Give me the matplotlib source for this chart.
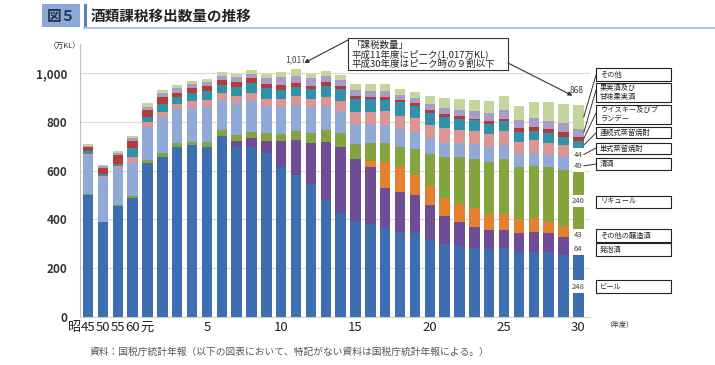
import matplotlib
matplotlib.use('Agg')
import matplotlib.pyplot as plt
from matplotlib.patches import Rectangle
import numpy as np

plt.rcParams['font.family'] = ['Noto Sans CJK JP', 'DejaVu Sans']

# ---------------- data (万KL) ----------------
years = ['昭45', '昭50', '昭55', '昭60', '平元'] + [f'平{i}' for i in range(2, 31)]
tick_labels = ['45', '50', '55', '60', '元', '', '', '', '5', '', '', '', '', '10',
               '', '', '', '', '15', '', '', '', '', '20', '', '', '', '', '25',
               '', '', '', '', '30']

series_names = ['ビール', '発泡酒', 'その他の醸造酒', 'リキュール', '清酒',
                '単式蒸留焼酎', '連続式蒸留焼酎', 'ウイスキー及びブランデー',
                '果実酒及び甘味果実酒', 'その他']
box_labels = ['ビール', '発泡酒', 'その他の醸造酒', 'リキュール', '清酒',
              '単式蒸留焼酎', '連続式蒸留焼酎', 'ウイスキー及びブ\nランデー',
              '果実酒及び\n甘味果実酒', 'その他']

beer = [500, 388, 455, 486, 630, 655, 696, 707, 699, 742, 696, 696, 671, 614, 582,
        545, 479, 425, 392, 381, 363, 347, 342, 317, 299, 292, 284, 277, 281, 267,
        267, 267, 253, 248]
happoshu = [0, 0, 0, 0, 0, 0, 0, 0, 0, 0, 26, 37, 51, 108, 144, 170, 240, 271, 254,
            233, 167, 164, 158, 141, 115, 95, 84, 79, 75, 75, 79, 75, 75, 64]
other_brewed = [0, 0, 0, 0, 0, 0, 0, 0, 0, 0, 0, 0, 0, 0, 0, 0, 0, 0, 0, 27, 107,
                108, 82, 80, 75, 77, 78, 66, 66, 58, 58, 48, 45, 43]
liqueur = [3, 2, 3, 10, 14, 16, 16, 12, 19, 25, 25, 27, 32, 29, 38, 41, 48, 58, 64,
           71, 75, 77, 105, 131, 168, 192, 203, 215, 225, 216, 215, 226, 229, 240]
seishu = [161, 184, 152, 137, 137, 148, 140, 140, 145, 123, 130, 124, 110, 112, 106,
          104, 99, 89, 81, 78, 76, 74, 73, 65, 58, 57, 60, 59, 59, 52, 55, 48, 55, 49]
shochu_tan = [4, 4, 7, 24, 20, 23, 22, 25, 25, 27, 30, 34, 30, 30, 37, 33, 36, 41,
              50, 52, 55, 55, 55, 55, 59, 52, 52, 55, 55, 51, 52, 51, 48, 44]
shochu_ren = [12, 10, 11, 34, 21, 32, 27, 34, 37, 34, 38, 41, 45, 38, 38, 41, 46, 51,
              53, 51, 48, 55, 51, 48, 48, 48, 45, 41, 41, 41, 38, 41, 34, 34]
whisky = [16, 24, 36, 30, 25, 27, 19, 21, 23, 23, 19, 21, 18, 21, 16, 14, 14, 11, 12,
          11, 11, 8, 11, 10, 10, 10, 8, 10, 12, 14, 14, 14, 21, 18]
fruit_wine = [6, 5, 8, 11, 16, 16, 18, 16, 14, 16, 19, 18, 23, 34, 27, 31, 27, 27, 25,
              25, 23, 21, 21, 26, 25, 27, 29, 34, 36, 34, 37, 32, 34, 32]
others = [6, 5, 8, 12, 14, 14, 12, 12, 15, 14, 14, 14, 18, 21, 29, 18, 20, 19, 24, 26,
          30, 26, 26, 35, 41, 44, 48, 48, 55, 59, 66, 78, 78, 96]

series = [beer, happoshu, other_brewed, liqueur, seishu, shochu_tan, shochu_ren,
          whisky, fruit_wine, others]
colors = ['#3E6DB0', '#6E4D94', '#E3812F', '#84A53E', '#91A9D6', '#DB9694',
          '#2F92AA', '#B53B39', '#A99CC7', '#C4D69C']

# ---------------- figure ----------------
W, H = 715, 365
fig = plt.figure(figsize=(W / 100, H / 100), dpi=100)
ax = fig.add_axes([80 / W, 1 - 316.7 / H, 510 / W, (316.7 - 44) / H])

x = np.arange(len(years))
bottom = np.zeros(len(years))
cums = []
for vals, c in zip(series, colors):
    v = np.array(vals, dtype=float)
    ax.bar(x, v, 0.7, bottom=bottom, color=c, linewidth=0, zorder=3)
    cums.append((bottom.copy(), bottom + v))
    bottom = bottom + v
total = bottom

ax.set_xlim(-0.54, 33.78)
ax.set_ylim(0, 1120)
ax.set_yticks(range(0, 1001, 200))
ax.set_yticklabels(['0', '200', '400', '600', '800', '1,000'], fontsize=8.5,
                   color='#333333', fontweight='bold')
ax.set_xticks(x)
ax.set_xticklabels(tick_labels, fontsize=9.5, color='#222222')
ax.tick_params(length=0, pad=3)
ax.tick_params(axis='y', pad=9)
ax.yaxis.grid(True, color='#D9D9D9', lw=0.8, zorder=0)
for s in ['top', 'right']:
    ax.spines[s].set_visible(False)
ax.spines['left'].set_color('#BFBFBF')
ax.spines['bottom'].set_color('#D0D0D0')

# labels on the last bar
last = len(years) - 1
for k in range(6):
    b0, b1 = cums[k]
    ax.text(last, (b0[last] + b1[last]) / 2, f'{series[k][last]}', ha='center',
            va='center', fontsize=5.5, color='#404040', zorder=5,
            bbox=dict(boxstyle='square,pad=0.3', fc='white', ec='none'))

peak = int(np.argmax(total))
ax.text(peak, total[peak] + 38, f'{int(total[peak]):,}', ha='center', va='center',
        fontsize=6, color='#404040')
ax.text(last - 0.15, total[last] + 60, f'{int(total[last])}', ha='center',
        va='center', fontsize=6, color='#404040')

# ---------------- overlay (pixel coords) ----------------
ov = fig.add_axes([0, 0, 1, 1], zorder=10)
ov.set_xlim(0, W)
ov.set_ylim(H, 0)
ov.axis('off')
ov.patch.set_alpha(0)

# title banner
ov.add_patch(Rectangle((42, 4), 38, 23, fc='#8CAAD8', ec='none'))
ov.text(61, 15.5, '図５', ha='center', va='center', fontsize=10.5,
        color='#26334F', fontweight='bold')
ov.add_patch(Rectangle((84, 4), 3, 24, fc='#5B82C2', ec='none'))
ov.plot([84, 715], [27.5, 27.5], color='#AFC4E6', lw=1.5)
ov.text(91, 15.5, '酒類課税移出数量の推移', ha='left', va='center',
        fontsize=10.5, color='#222222', fontweight='bold')

ov.text(65, 46, '（万KL）', ha='center', va='center', fontsize=5.5, color='#333333')
ov.text(81, 327.5, '昭', ha='right', va='center', fontsize=9.5, color='#222222')
ov.text(619, 325, '（年度）', ha='center', va='center', fontsize=5, color='#333333')
ov.text(90, 352, '資料：国税庁統計年報（以下の図表において、特記がない資料は国税庁統計年報による。）',
        ha='left', va='center', fontsize=7, color='#555555')

# callout
ov.add_patch(Rectangle((348, 38), 160, 32, fc='white', ec='#333333', lw=0.8))
ov.text(352, 45, '「課税数量」', ha='left', va='center', fontsize=6.8, color='#222222')
ov.text(352, 54.5, '平成11年度にピーク(1,017万KL)', ha='left', va='center',
        fontsize=6.8, color='#222222')
ov.text(352, 64, '平成30年度はピーク時の９割以下', ha='left', va='center',
        fontsize=6.8, color='#222222')
ov.annotate('', xy=(peak + 0.55, total[peak] + 25), xycoords=ax.transData,
            xytext=(348, 40), textcoords=ov.transData,
            arrowprops=dict(arrowstyle='-|>', color='#333333', lw=0.8,
                            mutation_scale=6, shrinkA=0, shrinkB=0))
ov.annotate('', xy=(last - 0.4, total[last] + 40), xycoords=ax.transData,
            xytext=(508, 63), textcoords=ov.transData,
            arrowprops=dict(arrowstyle='-|>', color='#333333', lw=0.8,
                            mutation_scale=6, shrinkA=0, shrinkB=0))

# legend boxes (top, bottom) in pixels, from top series to bottom
box_pos = {9: (68, 81), 8: (83, 102), 7: (105, 124), 6: (127, 138), 5: (143, 154),
           4: (158, 170), 3: (196, 208), 2: (229, 242), 1: (243, 256), 0: (280, 293)}
line_from = {9: 75, 8: 90, 7: 113, 6: 133, 5: 148, 4: 164}
for k, (t, b) in box_pos.items():
    ov.add_patch(Rectangle((596, t), 75, b - t, fc='white', ec='#222222', lw=0.8))
    ov.text(600, (t + b) / 2, box_labels[k], ha='left', va='center', fontsize=5.2,
            color='#222222', linespacing=1.15)
    if k in line_from:
        b0, b1 = cums[k]
        ov.annotate('', xy=(last + 0.36, (b0[last] + b1[last]) / 2),
                    xycoords=ax.transData, xytext=(596, line_from[k]),
                    textcoords=ov.transData,
                    arrowprops=dict(arrowstyle='-', color='#333333', lw=0.7,
                                    shrinkA=0, shrinkB=0))

fig.savefig('out.png', dpi=100, facecolor='white')
